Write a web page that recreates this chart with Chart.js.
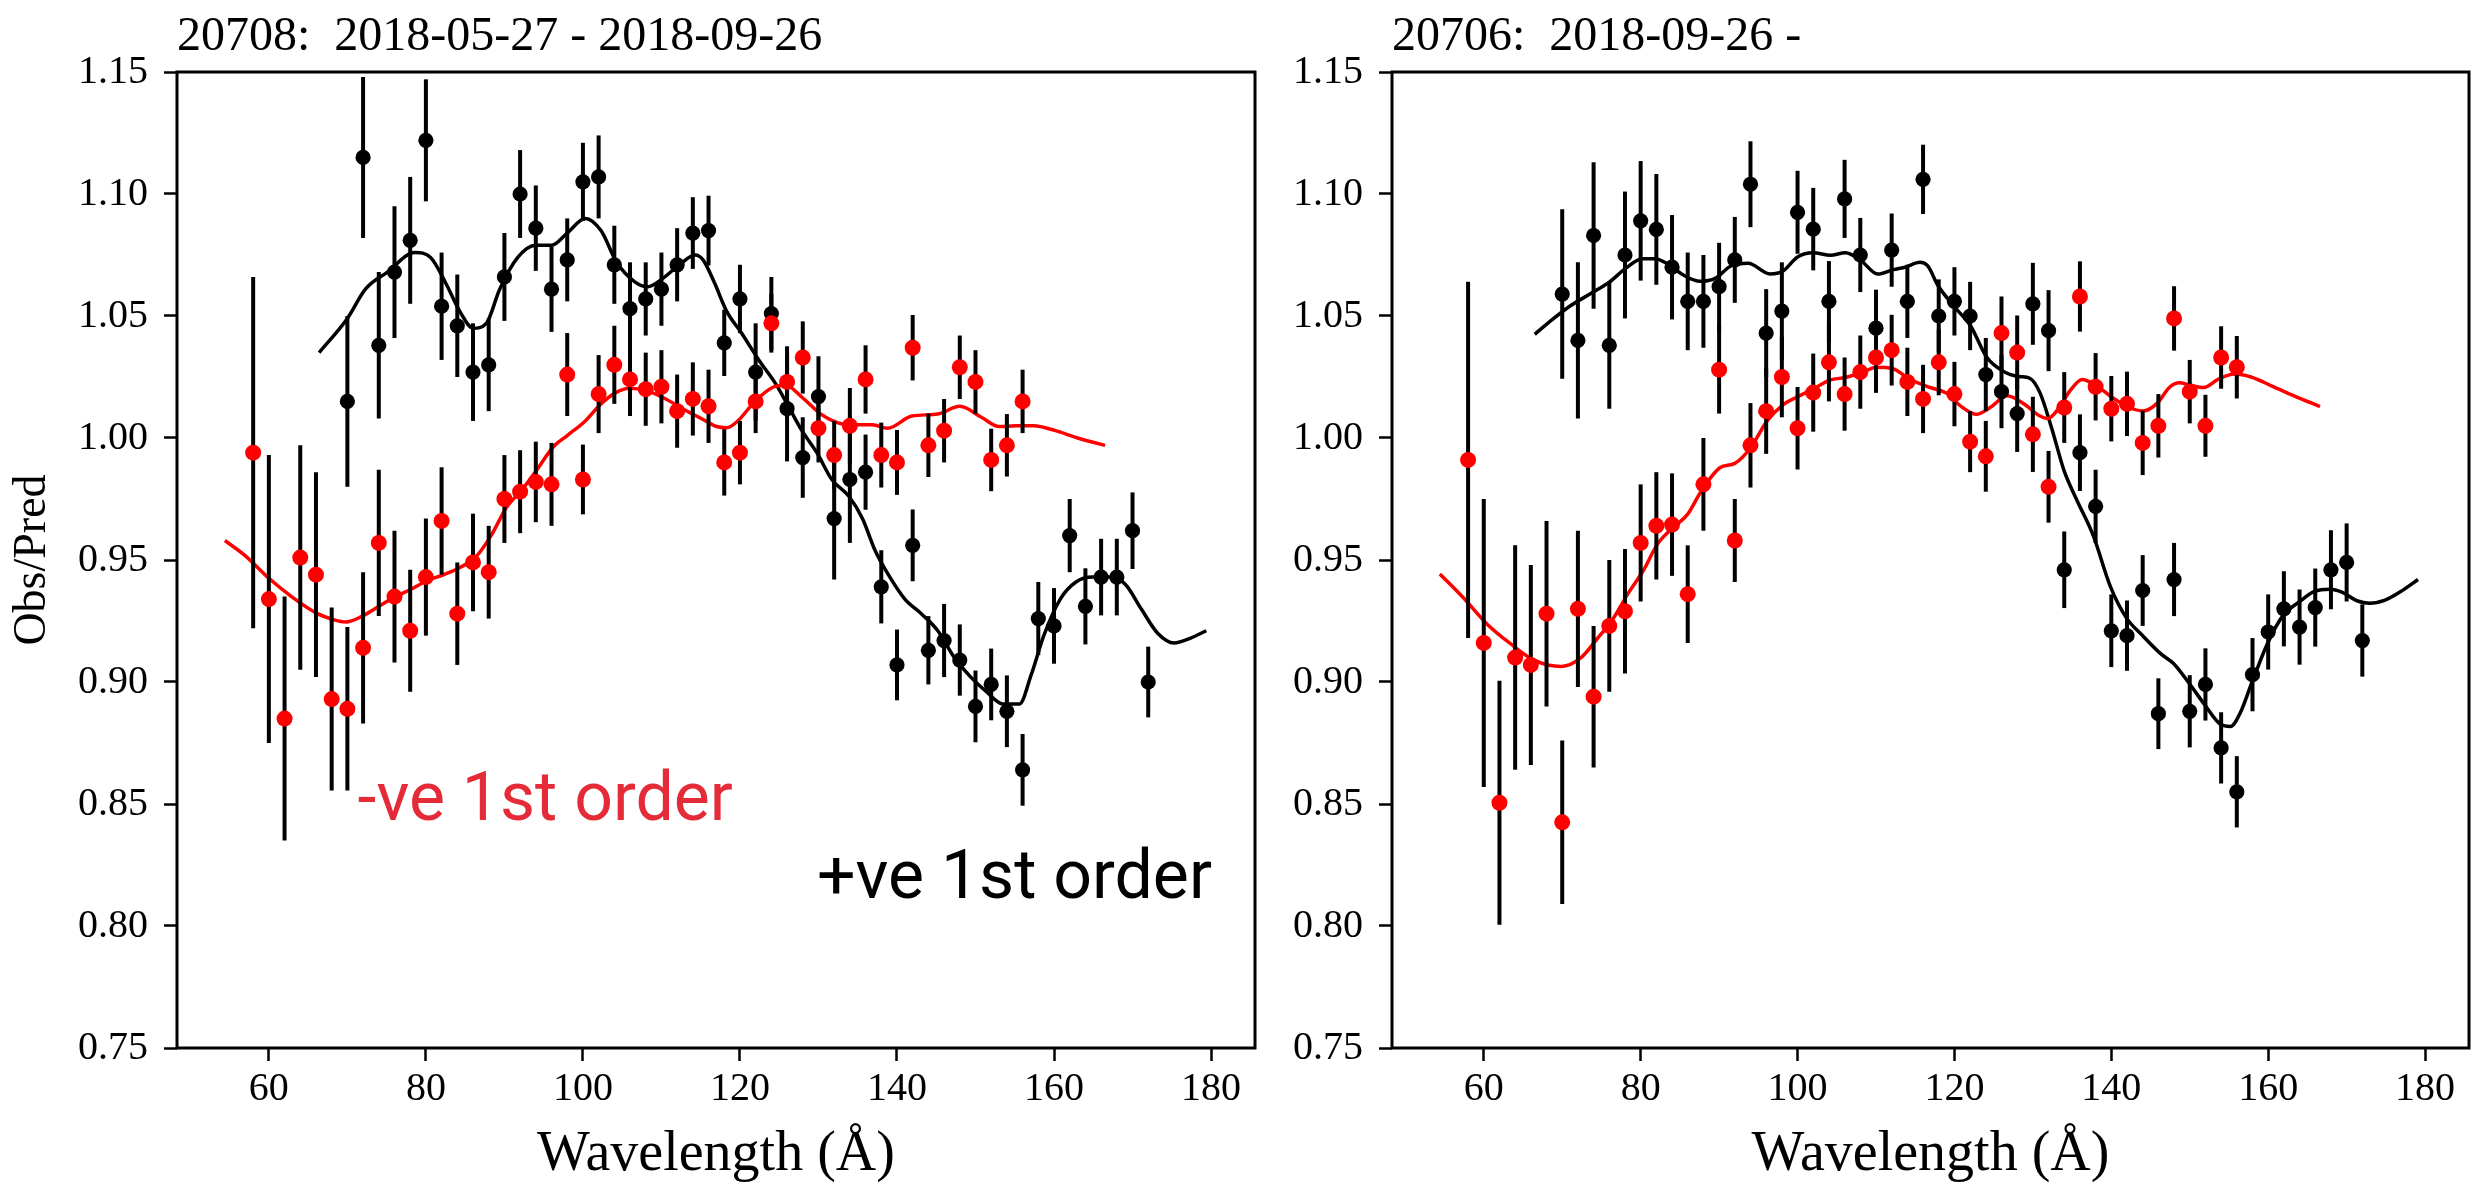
<!DOCTYPE html>
<html>
<head>
<meta charset="utf-8">
<title>Obs/Pred vs wavelength</title>
<script src="https://cdn.jsdelivr.net/npm/chart.js@4.4.1/dist/chart.umd.min.js"></script>
<style>
  body { margin: 0; background: #fff; }
  canvas { position: absolute; top: 0; }
  #left { left: 0; }
  #right { left: 1270px; }
</style>
</head>
<body>
<canvas id="left" width="1270" height="1183"></canvas>
<canvas id="right" width="1217" height="1183"></canvas>
<script>
// wavelength grids (Å)
const blackWl = [70, 72, 74, 76, 78, 80, 82, 84, 86, 88, 90, 92, 94, 96, 98, 100, 102, 104, 106, 108,
  110, 112, 114, 116, 118, 120, 122, 124, 126, 128, 130, 132, 134, 136, 138, 140, 142, 144, 146, 148,
  150, 152, 154, 156, 158, 160, 162, 164, 166, 168, 170, 172];
const redWl = [58, 60, 62, 64, 66, 68, 70, 72, 74, 76, 78, 80, 82, 84, 86, 88, 90, 92, 94, 96,
  98, 100, 102, 104, 106, 108, 110, 112, 114, 116, 118, 120, 122, 124, 126, 128, 130, 132, 134, 136,
  138, 140, 142, 144, 146, 148, 150, 152, 154, 156];

const xTicks = [60, 80, 100, 120, 140, 160, 180];
const yTicks = [0.75, 0.80, 0.85, 0.90, 0.95, 1.00, 1.05, 1.10, 1.15];

// ObsID 20708: +ve order (black) and -ve order (red)
const leftBlack = [1.015, 1.115, 1.038, 1.068, 1.081, 1.122, 1.054, 1.046, 1.027, 1.030,
  1.066, 1.100, 1.086, 1.061, 1.073, 1.105, 1.107, 1.071, 1.053, 1.057,
  1.061, 1.071, 1.084, 1.085, 1.039, 1.057, 1.027, 1.051, 1.012, 0.992,
  1.017, 0.967, 0.983, 0.986, 0.939, 0.907, 0.956, 0.913, 0.917, 0.909,
  0.890, 0.899, 0.888, 0.864, 0.926, 0.923, 0.960, 0.931, 0.943, 0.943,
  0.962, 0.900];
const leftBlackErr = [0.035, 0.033, 0.030, 0.027, 0.026, 0.025, 0.022, 0.021, 0.020, 0.019,
  0.018, 0.018, 0.0175, 0.0175, 0.017, 0.016, 0.017, 0.016, 0.019, 0.015,
  0.015, 0.015, 0.0147, 0.0143, 0.0136, 0.014, 0.020, 0.015, 0.0216, 0.0165,
  0.0165, 0.025, 0.026, 0.0154, 0.015, 0.0145, 0.0147, 0.014, 0.015, 0.0146,
  0.0147, 0.0147, 0.0147, 0.0147, 0.015, 0.0155, 0.015, 0.0156, 0.0157, 0.0157,
  0.0157, 0.0145];
const leftRed = [0.994, 0.934, 0.885, 0.951, 0.944, 0.893, 0.889, 0.914, 0.957, 0.935,
  0.921, 0.943, 0.966, 0.928, 0.949, 0.945, 0.975, 0.978, 0.982, 0.981,
  1.026, 0.983, 1.018, 1.030, 1.024, 1.020, 1.021, 1.011, 1.016, 1.013,
  0.990, 0.994, 1.015, 1.047, 1.023, 1.033, 1.004, 0.993, 1.005, 1.024,
  0.993, 0.990, 1.037, 0.997, 1.003, 1.029, 1.023, 0.991, 0.997, 1.015];
const leftRedErr = [0.072, 0.059, 0.050, 0.046, 0.042, 0.0375, 0.0335, 0.031, 0.030, 0.027,
  0.025, 0.024, 0.022, 0.021, 0.020, 0.019, 0.018, 0.017, 0.0165, 0.017,
  0.017, 0.0143, 0.016, 0.016, 0.015, 0.015, 0.015, 0.015, 0.015, 0.015,
  0.0136, 0.013, 0.013, 0.012, 0.0146, 0.0148, 0.014, 0.014, 0.0155, 0.014,
  0.0133, 0.0133, 0.0134, 0.013, 0.013, 0.013, 0.013, 0.0128, 0.0128, 0.013];

// smoothed model curves for 20708
const leftBlackFitWl = [66.4, 70, 72.3, 75.1, 78.6, 80.6, 82.6, 84.3, 86, 87.7, 89.4, 91.7, 94, 96, 98,
  100.3, 102.3, 104.3, 106.6, 108.3, 110, 112.3, 114.3, 115.3, 116.7, 118.3, 120.2, 122.4, 124.6, 126,
  127.9, 129.8, 131.7, 133.9, 135.6, 137.2, 138.9, 141, 143.1, 145.2, 147.3, 149.4, 151.4, 153.5, 155.6,
  157.1, 158.7, 160.8, 162.8, 164.9, 167, 169.1, 171.1, 173.2, 175.3, 177.4, 179.4];
const leftBlackFit = [1.035, 1.049, 1.061, 1.068, 1.076, 1.074, 1.063, 1.052, 1.045, 1.047, 1.061, 1.074, 1.079, 1.079, 1.084,
  1.090, 1.085, 1.072, 1.064, 1.062, 1.065, 1.071, 1.075, 1.073, 1.064, 1.052, 1.043, 1.032, 1.022, 1.014,
  1.003, 0.994, 0.983, 0.976, 0.967, 0.954, 0.944, 0.934, 0.928, 0.921, 0.910, 0.902, 0.896, 0.891, 0.891,
  0.903, 0.919, 0.934, 0.941, 0.943, 0.943, 0.940, 0.930, 0.920, 0.916, 0.918, 0.921];
const leftRedFitWl = [54.4, 56.9, 60, 63.1, 66.2, 68.3, 69.8, 71.9, 74, 76.1, 78.1, 80.2, 82.3, 84.4, 86.4,
  88.3, 90.3, 92.3, 94, 96.3, 98, 100.3, 102.3, 104.2, 105.9, 108.1, 110.3, 113.1, 115.3, 117,
  118.3, 119.7, 121.9, 124.2, 125.8, 128, 130.3, 132.5, 134.7, 136.9, 138.8, 141.9, 145.2, 148, 150.8,
  153, 155.2, 157.4, 160.2, 163, 166.5];
const leftRedFit = [0.958, 0.952, 0.9425, 0.9345, 0.928, 0.9255, 0.9246, 0.927, 0.931, 0.935, 0.938, 0.9416, 0.944, 0.947, 0.9514,
  0.960, 0.9717, 0.979, 0.9864, 0.9966, 1.001, 1.007, 1.014, 1.0186, 1.0204, 1.0194, 1.0164, 1.0113, 1.0076, 1.0047,
  1.0042, 1.0069, 1.015, 1.0208, 1.0216, 1.0164, 1.0098, 1.0062, 1.0054, 1.0054, 1.004, 1.009, 1.0098, 1.013, 1.0084,
  1.0047, 1.005, 1.005, 1.003, 1.000, 0.997];

// ObsID 20706
const rightBlack = [1.059, 1.040, 1.083, 1.038, 1.075, 1.089, 1.0855, 1.070, 1.056, 1.056,
  1.062, 1.073, 1.104, 1.043, 1.052, 1.0925, 1.0856, 1.056, 1.098, 1.075,
  1.045, 1.077, 1.056, 1.106, 1.050, 1.056, 1.050, 1.026, 1.019, 1.010,
  1.055, 1.044, 0.946, 0.994, 0.972, 0.921, 0.919, 0.9375, 0.887, 0.942,
  0.888, 0.899, 0.873, 0.855, 0.903, 0.9205, 0.930, 0.9225, 0.9305, 0.946,
  0.949, 0.917];
const rightBlackErr = [0.0347, 0.032, 0.030, 0.026, 0.026, 0.0245, 0.0227, 0.0214, 0.020, 0.019,
  0.018, 0.0176, 0.0176, 0.018, 0.020, 0.017, 0.0169, 0.0165, 0.016, 0.0152,
  0.0158, 0.015, 0.015, 0.0142, 0.015, 0.014, 0.014, 0.015, 0.015, 0.0157,
  0.0168, 0.0166, 0.0157, 0.0157, 0.015, 0.0149, 0.0144, 0.0145, 0.0145, 0.015,
  0.0148, 0.0148, 0.0146, 0.0146, 0.015, 0.0154, 0.0154, 0.0154, 0.016, 0.0162,
  0.016, 0.0148];
const rightRed = [0.991, 0.916, 0.8505, 0.910, 0.907, 0.928, 0.8425, 0.930, 0.894, 0.923,
  0.929, 0.957, 0.964, 0.9645, 0.936, 0.981, 1.028, 0.958, 0.997, 1.011,
  1.025, 1.004, 1.0186, 1.031, 1.018, 1.027, 1.033, 1.036, 1.023, 1.016,
  1.031, 1.018, 0.9985, 0.9925, 1.043, 1.035, 1.0015, 0.980, 1.0125, 1.058,
  1.021, 1.012, 1.014, 0.998, 1.005, 1.049, 1.019, 1.005, 1.033, 1.029];
const rightRedErr = [0.073, 0.059, 0.050, 0.046, 0.041, 0.038, 0.0335, 0.032, 0.029, 0.027,
  0.0255, 0.024, 0.022, 0.021, 0.020, 0.019, 0.018, 0.017, 0.0173, 0.0175,
  0.0165, 0.0169, 0.016, 0.016, 0.015, 0.015, 0.0145, 0.0145, 0.014, 0.014,
  0.0135, 0.0132, 0.0125, 0.0145, 0.015, 0.0152, 0.0154, 0.0147, 0.0145, 0.0144,
  0.0138, 0.0134, 0.0132, 0.0132, 0.013, 0.0132, 0.013, 0.0127, 0.0128, 0.0128];

const rightBlackFitWl = [66.5, 68.8, 71, 73.8, 76, 78.2, 80.2, 81.8, 83.5, 85.4, 87.6, 89.5, 91.5, 93.7, 96.5,
  98.1, 100, 102, 104.2, 106.1, 108.1, 110.2, 112.2, 113.8, 115.6, 116.6, 117.9, 120, 122.1, 124.1,
  126.2, 128.3, 129.6, 130.9, 132.4, 134, 135.6, 137.7, 139.9, 141.9, 143.9, 146.4, 147.9, 149.9, 151.9,
  153.9, 155.2, 156.4, 157.9, 159.9, 161.9, 163.9, 165.9, 167.9, 169.4, 171.4, 172.9, 174.9, 176.9, 179.1];
const rightBlackFit = [1.0425, 1.0487, 1.0541, 1.0595, 1.0639, 1.0698, 1.0735, 1.0735, 1.0713, 1.0669, 1.0642, 1.0654, 1.0705, 1.0716, 1.0672,
  1.0683, 1.0742, 1.0759, 1.0749, 1.0759, 1.0727, 1.0672, 1.069, 1.0701, 1.072, 1.0705, 1.0625, 1.0538, 1.0457, 1.0332,
  1.0274, 1.0252, 1.0245, 1.0186, 1.004, 0.9864, 0.9746, 0.960, 0.939, 0.9264, 0.9193, 0.9113, 0.9077, 0.8996, 0.8907,
  0.8827, 0.8818, 0.8871, 0.8996, 0.9157, 0.9273, 0.9327, 0.9371, 0.938, 0.9368, 0.9332, 0.9323, 0.9336, 0.9371, 0.942];
const rightRedFitWl = [54.4, 57.4, 60.4, 63.4, 66.4, 69.9, 72.4, 74.4, 76.4, 78.4, 80.4, 82.1, 84, 86, 87.6,
  90.1, 92, 94, 96.1, 98.1, 100, 102, 104.2, 106.1, 108.1, 110.1, 112.1, 114.2, 116.9, 118.9,
  121, 122.8, 124.6, 126.7, 128.8, 130.9, 131.9, 133.4, 134.7, 136.3, 138.1, 140.2, 142.2, 144.1, 145.9,
  147.4, 148.7, 150, 151.8, 153.6, 155.7, 157.8, 160.4, 163.5, 166.6];
const rightRedFit = [0.9443, 0.9345, 0.9238, 0.9157, 0.909, 0.9064, 0.910, 0.9175, 0.9255, 0.9363, 0.946, 0.9563, 0.9629, 0.9688, 0.9776,
  0.9878, 0.9896, 0.9959, 1.0069, 1.0135, 1.0169, 1.0201, 1.0238, 1.0248, 1.0267, 1.029, 1.0285, 1.0243, 1.0207, 1.0185,
  1.0126, 1.0097, 1.0126, 1.0173, 1.0141, 1.009, 1.008, 1.0126, 1.0192, 1.024, 1.0214, 1.0164, 1.0126, 1.0111, 1.0144,
  1.0207, 1.0226, 1.0217, 1.0207, 1.024, 1.0262, 1.025, 1.0214, 1.017, 1.0129];

const SERIF = '"Liberation Serif", "DejaVu Serif", serif';
const RED = '#ff0000';

const pts = (xs, ys) => xs.map((x, i) => ({ x: x, y: ys[i] }));

// vertical error bars, drawn just before the markers they belong to
const errorBars = {
  id: 'errorBars',
  beforeDatasetDraw(chart, args) {
    const ds = chart.data.datasets[args.index];
    if (!ds.errors) return;
    const xs = chart.scales.x, ys = chart.scales.y;
    const ctx = chart.ctx;
    ctx.save();
    ctx.strokeStyle = '#000';
    ctx.lineWidth = 4;
    ds.data.forEach((p, i) => {
      const px = xs.getPixelForValue(p.x);
      ctx.beginPath();
      ctx.moveTo(px, ys.getPixelForValue(p.y - ds.errors[i]));
      ctx.lineTo(px, ys.getPixelForValue(p.y + ds.errors[i]));
      ctx.stroke();
    });
    ctx.restore();
  }
};

// box around the plot area, panel title and order labels
const panelText = {
  id: 'panelText',
  afterDraw(chart, args, opts) {
    const ctx = chart.ctx;
    const a = chart.chartArea;
    ctx.save();
    ctx.strokeStyle = '#000';
    ctx.lineWidth = 3;
    ctx.strokeRect(a.left, a.top, a.right - a.left, a.bottom - a.top);

    ctx.fillStyle = '#000';
    ctx.font = '48px ' + SERIF;
    ctx.textAlign = 'left';
    ctx.textBaseline = 'alphabetic';
    ctx.fillText(opts.title, a.left, a.top - 22);

    (opts.notes || []).forEach(n => {
      ctx.font = '68px Roboto, "Noto Sans", sans-serif';
      ctx.fillStyle = n.color;
      ctx.fillText(n.text, chart.scales.x.getPixelForValue(n.x), chart.scales.y.getPixelForValue(n.y));
    });
    ctx.restore();
  }
};

function makePanel(id, cfg) {
  new Chart(document.getElementById(id), {
    type: 'scatter',
    data: {
      datasets: [
        { data: pts(redWl, cfg.red), errors: cfg.redErr, backgroundColor: RED, pointRadius: 8, pointBorderWidth: 0 },
        { data: pts(blackWl, cfg.black), errors: cfg.blackErr, backgroundColor: '#000', pointRadius: 7.6, pointBorderWidth: 0 },
        { type: 'line', data: pts(cfg.redFitWl, cfg.redFit), borderColor: RED, borderWidth: 3.5,
          pointRadius: 0, fill: false, cubicInterpolationMode: 'monotone' },
        { type: 'line', data: pts(cfg.blackFitWl, cfg.blackFit), borderColor: '#000', borderWidth: 3.5,
          pointRadius: 0, fill: false, cubicInterpolationMode: 'monotone' }
      ]
    },
    options: {
      responsive: false,
      animation: false,
      devicePixelRatio: 1,
      layout: { padding: { top: 72, right: cfg.padRight, left: 0, bottom: 0 } },
      plugins: {
        legend: { display: false },
        tooltip: { enabled: false },
        panelText: { title: cfg.title, notes: cfg.notes }
      },
      scales: {
        x: {
          type: 'linear',
          min: 48.3,
          max: 185.6,
          afterBuildTicks: s => { s.ticks = xTicks.map(v => ({ value: v })); },
          afterFit: s => { s.height = 135; },
          ticks: { color: '#000', font: { family: SERIF, size: 40 }, padding: 4, maxRotation: 0 },
          grid: { drawOnChartArea: false, color: '#000', tickLength: 13, tickWidth: 2.5 },
          border: { display: false },
          title: {
            display: true, text: 'Wavelength (Å)', color: '#000',
            font: { family: SERIF, size: 56, lineHeight: 1 }, padding: { top: 0, bottom: 0 }
          }
        },
        y: {
          min: 0.75,
          max: 1.15,
          afterBuildTicks: s => { s.ticks = yTicks.map(v => ({ value: v })); },
          afterFit: s => { s.width = cfg.yWidth; },
          ticks: { color: '#000', font: { family: SERIF, size: 40 }, padding: 16, callback: v => v.toFixed(2) },
          grid: { drawOnChartArea: false, color: '#000', tickLength: 13, tickWidth: 2.5 },
          border: { display: false },
          title: {
            display: cfg.yTitle, text: 'Obs/Pred', color: '#000',
            font: { family: SERIF, size: 46 }, padding: { top: 5, bottom: 0 }
          }
        }
      }
    },
    plugins: [errorBars, panelText]
  });
}

makePanel('left', {
  title: '20708:  2018-05-27 - 2018-09-26',
  black: leftBlack, blackErr: leftBlackErr, red: leftRed, redErr: leftRedErr,
  blackFitWl: leftBlackFitWl, blackFit: leftBlackFit, redFitWl: leftRedFitWl, redFit: leftRedFit,
  yWidth: 177, padRight: 15, yTitle: true,
  notes: [
    { text: '-ve 1st order', x: 71.3, y: 0.8435, color: '#e52b38' },
    { text: '+ve 1st order', x: 129.8, y: 0.8115, color: '#000' }
  ]
});

makePanel('right', {
  title: '20706:  2018-09-26 -',
  black: rightBlack, blackErr: rightBlackErr, red: rightRed, redErr: rightRedErr,
  blackFitWl: rightBlackFitWl, blackFit: rightBlackFit, redFitWl: rightRedFitWl, redFit: rightRedFit,
  yWidth: 122, padRight: 18, yTitle: false,
  notes: []
});
</script>
</body>
</html>
